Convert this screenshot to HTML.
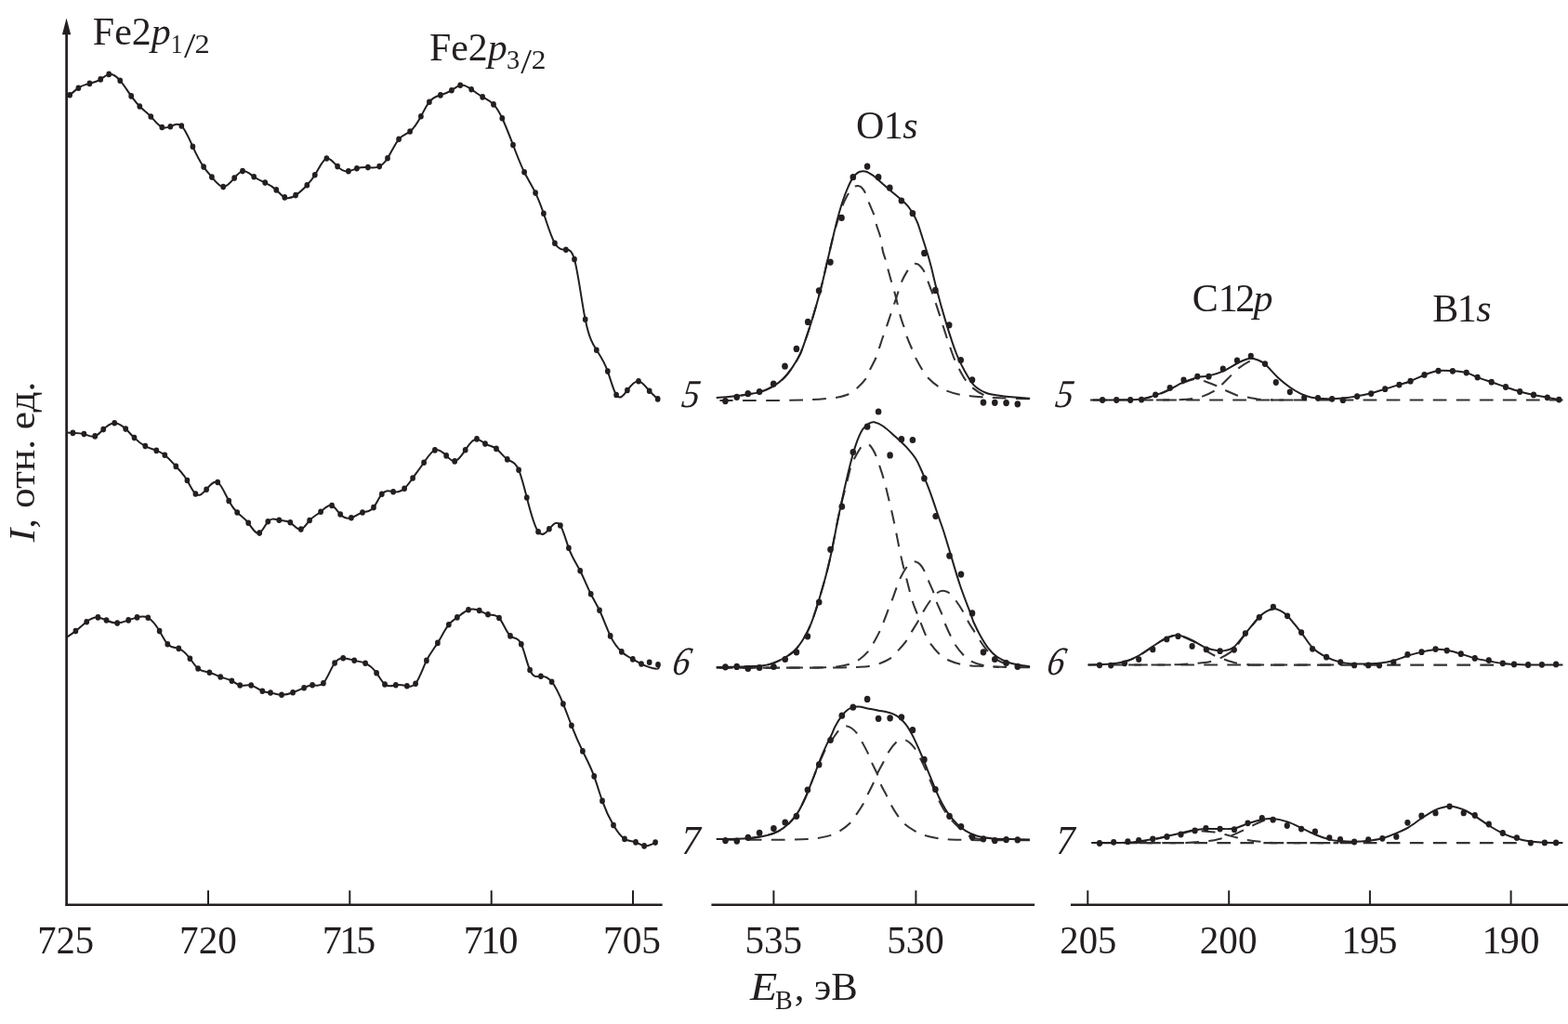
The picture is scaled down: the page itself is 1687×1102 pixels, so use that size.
<!DOCTYPE html>
<html lang="ru">
<head>
<meta charset="utf-8">
<title>XPS spectra: Fe2p, O1s, Cl2p, B1s</title>
<style>
html,body{margin:0;padding:0;background:#fff}
body{width:1687px;height:1102px;overflow:hidden}
svg{display:block}
.ax{stroke:#231f20;fill:none;stroke-width:2.4}
.tk{stroke:#231f20;fill:none;stroke-width:2}
.ln{stroke:#231f20;fill:none;stroke-width:2.0;stroke-linejoin:round;stroke-linecap:butt}
.ds{stroke:#343235;fill:none;stroke-width:2.05;stroke-dasharray:14.7 10.35}
.pt{fill:#231f20}
text{font-family:'Liberation Serif', serif;font-size:42px;fill:#231f20;white-space:pre}
</style>
</head>
<body>
<svg width="1687" height="1102" viewBox="0 0 1687 1102">
<rect width="1687" height="1102" fill="#fff"/>
<g class="ax"><path stroke-width="2.7" d="M71.6 36V975"/><path d="M70.6 973.8H712.6"/><path d="M765.4 973.8H1113.1"/><path d="M1152 973.8H1687"/></g>
<path d="M71.55 19.5L76.2 37.2H66.9Z" fill="#231f20"/>
<g class="tk"><path d="M224 958.3V973"/><path d="M376.3 958.3V973"/><path d="M528.7 958.3V973"/><path d="M681 958.3V973"/><path d="M832.4 958.3V973"/><path d="M985.4 958.3V973"/><path d="M1170.3 958.3V973"/><path d="M1322.2 958.3V973"/><path d="M1473.9 958.3V973"/><path d="M1625.6 958.3V973"/></g>
<g class="ds"><path stroke-dashoffset="22.2" d="M1173.1 430.4H1391"/><path stroke-dashoffset="0.3" d="M1366.7 430.4H1681.5"/><path stroke-dashoffset="0.5" d="M1170.5 715.5H1440"/><path stroke-dashoffset="0.4" d="M1342.3 715.6H1607"/><path stroke-dashoffset="15.2" d="M1174.2 907.1H1440"/><path stroke-dashoffset="0.2" d="M1366.7 907.1H1632"/><path stroke-dashoffset="2.6" d="M797.6 425.4C800.8 424.8 811.3 423.6 816.9 422.1C822.5 420.6 826.8 418.7 831.1 416.2C835.5 413.7 839.4 410.8 843 407.3C846.6 403.8 849.5 399.8 852.5 395.4C855.5 391 858.5 386.1 860.8 381.2C863.1 376.3 864.5 371.7 866.5 366C868.5 360.3 870.6 353.9 872.7 347.2C874.8 340.5 876.9 333.4 879 326C881.1 318.6 883.6 308.9 885.2 302.5C886.8 296.1 886.8 295.6 888.6 287.8C890.4 280 893.9 264.3 896.1 255.7C898.3 247.1 900.1 241.5 901.7 236C903.4 230.5 904.6 226.3 906 222.5C907.4 218.7 908.8 215.8 910.2 213C911.6 210.2 913.1 207.9 914.5 206C915.9 204.1 917.6 202.5 918.5 201.6C919.4 200.7 919.4 200.8 920.1 200.5"/><path d="M920.1 200.5C920.8 200.2 921.6 199.8 922.8 200C923.9 200.2 925.6 200.4 927 201.8C928.4 203.2 930 205.7 931.4 208.5C932.8 211.3 933.6 214.8 935.1 218.7C936.6 222.5 939.1 227.6 940.5 231.6C941.9 235.6 942.1 238.8 943.2 242.8C944.4 246.8 946.3 251.2 947.4 255.7C948.5 260.2 948.9 265.9 949.8 270C950.7 274.1 952 276.7 953 280.2C954 283.7 954.6 286.9 955.7 290.9C956.8 294.9 958 299.3 959.4 304.3C960.8 309.3 962.7 315 964.2 320.9C965.7 326.8 967.1 334.4 968.5 339.6C969.9 344.9 971.5 348.5 972.8 352.4C974 356.3 974.6 359.2 976 363.1C977.4 367 979.8 372.2 981.4 376C983 379.8 983.6 382.2 985.5 385.9C987.4 389.6 990.3 394.8 992.6 398.4C994.9 402 996.2 404.3 999.1 407.3C1002 410.3 1006.4 413.9 1009.8 416.2C1013.2 418.5 1015.3 419.4 1019.3 420.9C1023.2 422.4 1029.3 424.1 1033.5 425C1037.7 425.9 1040.2 425.8 1044.2 426.2C1048.2 426.6 1051.5 427 1057.8 427.4C1064.1 427.8 1073.6 428.3 1082 428.6C1090.4 428.9 1103.7 429.2 1108 429.3"/><path stroke-dashoffset="0.4" d="M774.4 431C778.7 431 789.4 431 800 431C810.6 431 827.5 431.1 838 431C848.5 430.9 857 430.6 863.1 430.5C869.2 430.4 870.1 430.4 874.4 430.1C878.6 429.9 884.5 429.4 888.6 429C892.8 428.6 895.3 428.8 899.3 428C903.2 427.2 908.5 426.2 912.3 424.5C916 422.8 918.6 420.7 921.8 417.9C925 415.1 928.9 411.2 931.3 407.9C933.7 404.5 934.1 401.7 936 397.8C937.9 393.9 940.9 388.6 942.6 384.7C944.3 380.8 944.7 378.3 946 374.4C947.3 370.5 948.9 365.4 950.3 361.5C951.6 357.6 952.8 354.7 954.1 350.8C955.5 346.9 956.7 343 958.4 338C960.1 333 962.2 326.7 964.2 320.9C966.2 315.1 968 308.2 970.1 303.2C972.2 298.2 974.9 293.8 976.6 290.9C978.3 287.9 979.2 286.7 980.5 285.5C981.8 284.3 982.9 283.8 984.1 283.7"/><path d="M984.1 283.7C985.4 283.6 986.8 283.9 988 284.6C989.2 285.3 990.4 286.6 991.5 288C992.6 289.4 993.6 290.5 994.8 293C996 295.5 997.1 299.4 998.5 303.2C999.9 307 1001.9 312 1003.3 316C1004.7 320 1005.8 323.3 1007.1 327.3C1008.4 331.3 1010 336.2 1011.3 340.1C1012.5 344 1013.4 346.9 1014.6 350.8C1015.9 354.7 1017.5 359.7 1018.8 363.7C1020.1 367.7 1021.2 371.1 1022.6 374.9C1024 378.7 1025.3 382.9 1026.9 386.7C1028.5 390.5 1030.3 394.1 1032.3 397.8C1034.3 401.5 1036.3 405.6 1038.8 409C1041.3 412.4 1043.9 415.3 1047.1 417.9C1050.3 420.5 1054 423.1 1057.8 424.8C1061.6 426.5 1068 427.5 1070 428"/><path stroke-dashoffset="24.1" d="M800 717.4C803.2 717.3 814.1 717.2 819.3 716.6C824.5 716 827.1 715.2 831.1 713.9C835.1 712.5 839 710.8 843 708.5C847 706.2 851.2 703.7 854.8 700.2C858.3 696.8 861.3 692.6 864.3 687.8C867.3 683 869.5 679.1 872.6 671.2C875.7 663.3 879.4 651.6 882.7 640.2C886.1 628.8 889.4 617.3 892.7 602.7C896.1 588.1 899.6 566.9 902.8 552.7C905.9 538.5 909.5 525.8 911.6 517.3C913.7 508.8 914.1 506.1 915.5 502C916.9 497.9 917.9 496 919.7 492.5C921.6 489 924.7 483.5 926.6 481C928.5 478.5 929.6 478 931 477.6C932.4 477.2 933.9 477.6 935.2 478.6"/><path d="M935.2 478.6C936.5 479.6 937.7 481.3 939 483.5C940.3 485.7 941 486.5 942.9 491.7C944.8 496.9 948.3 506.9 950.6 514.9C952.9 522.9 954.8 531.5 956.8 539.6C958.8 547.7 960.2 553.8 962.3 563.7C964.4 573.6 967.2 589 969.4 598.9C971.6 608.8 973.3 615.2 975.4 623.3C977.5 631.4 979.9 641 981.8 647.3C983.7 653.5 984.5 654.7 986.9 660.8C989.3 666.9 993.6 678.4 996.1 683.9C998.6 689.4 999.4 690.4 1001.8 693.7C1004.2 697 1007.7 701.1 1010.7 703.9C1013.7 706.6 1016.1 708.4 1019.9 710.2C1023.7 712 1029.3 713.7 1033.4 714.7C1037.5 715.7 1040.3 716 1044.4 716.4C1048.5 716.8 1053.7 716.7 1057.8 716.9C1061.9 717.1 1064.9 717.2 1069.1 717.4C1073.2 717.6 1076.2 717.9 1082.7 718C1089.2 718.1 1103.8 718.2 1108 718.2"/><path stroke-dashoffset="21.7" d="M770.7 718.6C775.6 718.6 785.1 718.6 800 718.6C814.9 718.6 845.8 718.7 860 718.6C874.2 718.5 878.2 718.5 885 718.3C891.8 718.1 895.5 718 900.5 717.4C905.5 716.8 910.7 715.8 914.7 714.5C918.8 713.2 921.4 711.9 924.8 709.5C928.2 707.1 932.3 703.2 934.9 700.1C937.5 697 938.5 694.4 940.5 690.8C942.5 687.2 945.2 682.1 947 678.3C948.8 674.5 949.7 671.8 951.2 667.9C952.7 664 954.5 659.1 956 655.2C957.5 651.3 958.7 648.6 960.2 644.7C961.7 640.8 963.4 635.5 964.9 631.6C966.4 627.7 967.3 624.9 969.1 621.2C970.9 617.5 974 612.3 975.9 609.6C977.8 606.9 979 606.1 980.5 605.2C982 604.4 983.5 604.1 985.1 604.5"/><path d="M985.1 604.5C986.7 604.9 988.4 605.8 990 607.5C991.6 609.2 993.1 611.7 994.6 614.6C996.1 617.5 997.2 620.9 998.8 624.7C1000.4 628.5 1002.9 633.7 1004.4 637.6C1005.9 641.5 1006.2 644.1 1007.7 648C1009.2 651.9 1011.9 657.1 1013.4 661C1014.9 664.9 1015.3 667.6 1016.9 671.5C1018.5 675.4 1020.9 680.5 1022.7 684.2C1024.5 687.9 1025.3 690.4 1027.6 693.8C1029.9 697.2 1033.6 701.8 1036.4 704.8C1039.2 707.8 1041.1 709.7 1044.7 711.6C1048.3 713.5 1052.8 715 1057.8 716.1C1062.8 717.2 1072.1 717.7 1075 718"/><path stroke-dashoffset="25" d="M770.7 718.6C775.6 718.6 781.8 718.6 800 718.6C818.2 718.6 862.5 718.6 880 718.6C897.5 718.6 898.1 718.5 905 718.4C911.9 718.3 916.3 718.1 921.3 717.9C926.3 717.6 931 717.5 935 716.9C939 716.3 941.7 715.9 945.6 714.4C949.5 712.9 955.1 710.4 958.5 708.1C961.9 705.8 963.4 703.5 966.1 700.4C968.8 697.3 972.5 693.2 974.9 689.8C977.3 686.4 978.6 683.6 980.7 680.1C982.8 676.6 985.4 672.6 987.5 669C989.6 665.4 991 662.1 993.2 658.4C995.4 654.6 998.3 649.9 1000.8 646.5C1003.3 643.1 1005.9 640 1008.1 638.2"/><path d="M1008.1 638.2C1010.4 636.4 1012.1 635.8 1014.3 635.8C1016.5 635.8 1019 636.4 1021.4 638.2C1023.8 640 1026 643.1 1028.5 646.5C1031 649.9 1034.1 654.7 1036.3 658.4C1038.5 662.1 1039.7 665.3 1041.7 668.9C1043.7 672.5 1046.4 676.6 1048.5 680C1050.6 683.4 1052.3 686.3 1054.4 689.5C1056.5 692.7 1058.8 696.1 1061.3 699.2C1063.8 702.3 1065.6 705.4 1069.1 707.9C1072.6 710.4 1077.8 712.9 1082.1 714.5C1086.4 716.1 1092.8 717 1095 717.5"/><path stroke-dashoffset="6.1" d="M807.6 901.9C810.6 901.4 820.5 900.1 825.4 898.9C830.3 897.7 833.3 896.9 837.3 894.7C841.3 892.5 845.6 889.3 849.2 885.8C852.8 882.3 855.7 878.6 858.7 873.9C861.7 869.1 864.4 863 867 857.3C869.6 851.6 871.7 845.5 874.1 839.5C876.5 833.5 879.2 826.6 881.6 821C884 815.4 886 810.2 888.3 806C890.6 801.8 893.4 798.6 895.6 795.5C897.8 792.4 899.7 789.4 901.5 787.1C903.3 784.8 905 782.6 906.5 781.6C908 780.6 908.8 780.9 910.4 781.2"/><path d="M910.4 781.2C912 781.5 914.1 782.2 916 783.5C917.9 784.8 919.9 786.5 921.7 788.9C923.6 791.3 925.1 794.1 927.1 797.8C929.1 801.5 932.2 807.1 934 810.9C935.8 814.7 936.2 816.7 937.8 820.4C939.4 824.1 942.1 829 943.8 832.9C945.4 836.8 945.8 839.7 947.5 843.6C949.1 847.5 952 852.4 953.9 856.1C955.7 859.8 956.6 862.2 958.6 865.9C960.6 869.6 963.7 874.7 966.1 878.1C968.5 881.5 969.8 883.6 972.9 886.4C976 889.2 981.2 892.6 984.8 894.7C988.4 896.8 990.4 897.7 994.3 898.9C998.2 900.1 1003.9 901.2 1008 901.9C1012.1 902.6 1014.7 902.8 1018.9 903.1C1023.1 903.4 1026.5 903.5 1033 903.7C1039.5 903.9 1045.4 904.2 1057.9 904.3C1070.4 904.4 1099.7 904.2 1108 904.2"/><path stroke-dashoffset="16" d="M770.7 903.7C776.5 903.7 795.3 903.7 805.2 903.7C815.1 903.7 821.9 903.7 830.2 903.7C838.5 903.7 848.7 903.7 855.1 903.6C861.5 903.5 864.6 903.4 868.8 903.1C873 902.8 875.9 902.6 880.1 901.9C884.3 901.2 889.8 900.2 893.8 898.9C897.8 897.6 900.4 896.3 903.9 894.1C907.4 891.9 911.7 888.7 914.6 885.8C917.5 882.9 918.7 880.4 921.1 876.9C923.5 873.4 926.7 868.7 928.8 865C930.9 861.3 931.7 858.8 933.6 854.9C935.5 851 938.4 845.5 940.1 841.8C941.8 838.1 942 836.6 943.8 832.9C945.5 829.2 948.7 823.7 950.7 819.8C952.7 815.9 953.5 813.2 955.7 809.7C957.9 806.2 961.6 801.3 964 799C966.4 796.7 968.2 796.4 970 796C971.8 795.6 972.9 795.9 974.5 796.6"/><path d="M974.5 796.6C976.1 797.3 977.8 798.4 979.5 800C981.2 801.6 983 803.5 984.8 806.2C986.6 808.9 988.3 812.6 990.2 816.3C992.1 820 994.2 824.3 996.1 828.5C998 832.7 999.7 837.2 1001.5 841.5C1003.3 845.8 1005.2 850.4 1007 854.5C1008.8 858.6 1010.5 862.3 1012.5 866C1014.5 869.7 1016.6 873.2 1019 876.5C1021.4 879.8 1024.3 883.2 1027 886C1029.7 888.8 1032.2 891.1 1035 893.5C1037.8 895.9 1039.9 898.4 1043.7 900.1C1047.5 901.8 1052.7 903.1 1057.9 903.7C1063.1 904.4 1072.2 904 1075 904"/><path stroke-dashoffset="3.4" d="M1227.8 429.8C1230.4 429.1 1238 427.5 1243.2 425.8C1248.4 424.1 1253.7 421.7 1258.7 419.4C1263.8 417.1 1269.5 413.6 1273.5 411.8C1277.5 410 1280.3 409 1283 408.4C1285.7 407.8 1287.4 408 1289.5 408.3C1291.6 408.6 1292.2 408.8 1295.4 410"/><path d="M1295.4 410C1298.7 411.2 1305.2 413.7 1309 415.3C1312.8 416.9 1314.1 418.1 1317.9 419.8C1321.7 421.5 1327.5 424.4 1331.6 425.7C1335.6 427 1338.2 426.8 1342.2 427.5C1346.2 428.2 1351.3 429.3 1355.9 429.8C1360.5 430.3 1367.7 430.3 1370 430.4"/><path stroke-dashoffset="0.6" d="M1244 430.4C1248.2 430.4 1262.5 430.4 1269 430.2C1275.5 429.9 1278.9 429.5 1283 428.9C1287.1 428.3 1289.6 428 1293.6 426.6C1297.5 425.2 1303.1 422.8 1306.7 420.6C1310.3 418.4 1312 416.4 1315 413.5C1318 410.6 1322 406.4 1325 403.5C1328 400.6 1329.5 398.6 1332.8 396.1C1336.1 393.6 1341.7 390.1 1344.6 388.6C1347.5 387.1 1349.1 387.4 1350 387.2"/><path stroke-dashoffset="14.3" d="M1195.1 714.5C1197.6 714.1 1205.1 713.6 1210 712.2C1214.9 710.8 1219.3 708.9 1224.3 706.3C1229.2 703.6 1234.6 699.5 1239.7 696.3C1244.8 693.1 1250.5 688.9 1255.1 686.9C1259.7 684.9 1263 683.5 1267.5 684C1272 684.5 1278.3 687.7 1282.4 689.6C1286.5 691.5 1289 693.5 1292 695.5C1295 697.5 1297.8 700.2 1300.2 701.9C1302.7 703.6 1303.9 704.2 1306.7 705.5C1309.5 706.8 1313.2 708.2 1317.3 709.6C1321.3 711 1326.4 712.8 1331 713.8C1335.6 714.8 1342.7 715.1 1345 715.4"/><path stroke-dashoffset="0.7" d="M1214.1 715.5C1218.3 715.5 1230.8 715.5 1239.1 715.5C1247.4 715.5 1255.7 715.6 1264 715.3C1272.3 715 1282.5 714.3 1288.9 713.8C1295.3 713.2 1298.5 712.9 1302.5 712C1306.5 711.1 1309 710.1 1312.6 708.4C1316.2 706.7 1321 704 1323.9 701.9C1326.8 699.8 1327.3 699.3 1330 696C1332.7 692.7 1335.8 687.5 1339.9 682.2C1344 676.9 1350.8 668.4 1354.8 664.3C1358.8 660.2 1361.1 659.1 1363.7 657.6C1366.3 656.1 1369.1 655.7 1370.2 655.3"/><path stroke-dashoffset="3" d="M1222 907C1225.2 906.4 1235.3 904.7 1240.9 903.6C1246.5 902.5 1250.8 901.4 1255.7 900.3C1260.6 899.2 1265.6 898 1270.5 897C1275.4 896 1281.3 894.4 1285.3 894C1289.2 893.6 1290.6 894.2 1294.2 894.5C1297.8 894.8 1302.8 895 1306.7 895.6C1310.7 896.2 1313.9 897 1317.9 898C1322 899 1327 900.6 1331 901.6C1335 902.6 1338 903.2 1342.2 903.9C1346.4 904.6 1351.3 905.2 1355.9 905.7C1360.5 906.2 1367.7 906.8 1370 907"/><path stroke-dashoffset="0.8" d="M1226 907.1C1230.2 907.1 1242.7 907.1 1251 907.1C1259.3 907.1 1267.5 907.2 1275.8 906.9C1284.1 906.6 1294.3 905.9 1300.7 905.1C1307.1 904.3 1310.2 903.3 1314.4 902.2C1318.7 901.1 1322.4 900 1326.2 898.6C1330 897.2 1333.9 895.3 1337.5 893.6C1341.1 891.9 1343.9 890.2 1347.6 888.5C1351.2 886.8 1355.7 884.4 1359.4 883.2C1363.1 882 1367.9 881.6 1369.6 881.3"/></g>
<g class="ln"><path d="M72 104.5C73 103.8 74.1 103 75.1 102.2C78.2 99.8 81.3 96.8 84.4 94.7C88.4 92 92.4 90.9 96.4 89.9C100.3 88.9 104.3 87.9 108.2 85.4C111.2 83.5 114.2 80.6 117.2 79.9C121.2 79 125.2 82 129.2 86.7C133.2 91.4 137.2 97.8 141.2 103.4C144.2 107.6 147.3 111.4 150.3 114.5C154.3 118.5 158.3 121.3 162.3 125.5C166.3 129.7 170.3 135.2 174.3 137C177.3 138.3 180.3 137.5 183.3 136.2C187.3 134.5 191.3 131.9 195.3 135.5C199.3 139.1 203.4 149 207.4 157.8C211.3 166.3 215.2 173.9 219.1 179.6C222 183.9 225 187.1 227.9 190.6C232 195.5 236.1 201 240.2 201.1C244.2 201.2 248.2 196.3 252.2 191.6C255.1 188.1 258.1 184.8 261 184.1C265.1 183.2 269.1 187.4 273.2 190.3C277.2 193.2 281.2 194.7 285.2 196.6C289.2 198.5 293.3 200.6 297.3 204.4C300.3 207.2 303.3 210.9 306.3 212.4C310.2 214.4 314.2 212.7 318.1 210.1C322.2 207.4 326.2 203.7 330.3 199.3C333.1 196.3 336 192.9 338.8 188.3C343 181.5 347.2 171.8 351.4 170.5C355.3 169.3 359.2 175.2 363.1 179.1C367 183 371 184.8 374.9 184.3C377.9 183.9 380.9 182.3 383.9 181.3C387.9 180 391.9 179.8 395.9 180.1C400 180.4 404.1 181.1 408.2 179.1C411.1 177.6 414.1 174.7 417 170.2C421 164 425.1 154.6 429.1 149.8C433.1 145 437.1 144.7 441.1 141.5C445 138.3 449 132.4 452.9 125.2C455.9 119.7 458.9 113.5 461.9 109.7C465.9 104.6 469.9 103.6 473.9 102.4C477.9 101.2 481.9 99.8 485.9 97.2C489 95.2 492.1 92.4 495.2 91.7C499.2 90.8 503.2 93.4 507.2 96.2C511.2 99 515.2 102.1 519.2 104.4C523.1 106.7 527.1 108.2 531 112.4C534.1 115.7 537.2 120.7 540.3 127.2C544.2 135.3 548.1 145.7 552 156C556 166.6 560.1 177.1 564.1 185.3C568.1 193.4 572.1 199.2 576.1 207.6C579 213.7 582 221.3 584.9 229.8C588.9 241.4 592.9 254.9 596.9 261.8C600.9 268.7 604.9 268.9 608.9 268.8C611.9 268.7 615 268.5 618 279.1C621.9 292.8 625.8 324.5 629.7 343.8C633.7 363.8 637.8 370.6 641.8 376.8C645.8 382.9 649.8 388.4 653.8 399.6C656.9 408.2 660 420.3 663.1 425C667 431 671 425.2 674.9 420C678.9 414.6 683 409.8 687 410.3C690.9 410.8 694.8 416.3 698.7 420.7C701.7 424.1 704.7 426.7 707.7 429.4"/><path d="M72 465.6C74.1 465.7 76.3 465.8 78.4 465.9C82.4 466 86.4 465.9 90.4 467.1C94.3 468.3 98.3 470.8 102.2 469.4C105.2 468.3 108.2 465 111.2 462.1C115.2 458.3 119.2 455.4 123.2 455.3C127.2 455.2 131.2 457.9 135.2 461.6C138.3 464.5 141.4 468.1 144.5 471.1C148.4 475 152.4 478 156.3 480.1C160.3 482.2 164.3 483.4 168.3 484.9C171.3 486 174.3 487.4 177.3 489.7C181.3 492.8 185.3 497.6 189.3 501.9C193.3 506.3 197.4 510.1 201.4 517C204.4 522.1 207.4 528.9 210.4 531.5C214.3 534.9 218.2 531.2 222.1 526.7C226.1 522.1 230.2 516.6 234.2 519C238.2 521.4 242.2 531.6 246.2 539C249.2 544.5 252.2 548.5 255.2 551.5C259.2 555.5 263.2 557.7 267.2 562.8C271.2 567.9 275.2 575.7 279.2 573.6C282.2 572 285.3 564.7 288.3 561.3C292.3 556.8 296.3 559.1 300.3 559.8C304.3 560.5 308.3 559.6 312.3 562.3C316.1 564.8 320 570.6 323.8 569.6C326.9 568.8 330 563.5 333.1 560C337.1 555.5 341.1 554.1 345.1 550.8C349.1 547.5 353.1 542.4 357.1 544C360.1 545.2 363.2 550.3 366.2 553.5C370.1 557.6 374 558.5 377.9 557.3C381.9 556.1 386 552.7 390 551.5C394 550.3 398 551.3 402 546.1C404.9 542.3 407.9 535.3 410.8 531.7C414.9 526.7 419 528.6 423.1 529.2C427.1 529.8 431.1 529.2 435.1 525.7C438.1 523 441.1 518.7 444.1 514.5C448.1 508.9 452.1 503.5 456.1 497.7C460 492 464 485.9 467.9 484.4C472 482.9 476.1 486.3 480.2 490.4C483.2 493.4 486.2 496.7 489.2 496.4C493 496.1 496.9 490 500.7 484.2C504.8 478 508.9 472.3 513 472.4C516 472.5 519 475.8 522 477.6C526 480 530 479.9 534 482.9C537.9 485.8 541.9 491.8 545.8 494.4C549.9 497.1 554 496.3 558.1 505.7C561 512.4 563.9 524.1 566.8 535.5C570.9 551.6 575 566.8 579.1 572.3C583 577.6 587 573.8 590.9 569.3C594.9 564.7 598.9 559.2 602.9 565.5C605.9 570.2 608.9 581.6 611.9 589.8C616 601 620.1 606.2 624.2 614.2C628 621.7 631.9 631.6 635.7 639.3C638.8 645.5 641.9 650.2 645 656.8C648.9 665.1 652.8 676.3 656.7 684.4C660.7 692.8 664.8 697.8 668.8 701.4C672.8 705 676.8 707.1 680.8 709.4C683.9 711.2 686.9 713 690 714.5C692 715.5 694 716.3 696 717.1C698 717.9 700 718.5 702 719C703.4 719.3 704.9 719.6 706.3 719.8"/><path d="M706.3 719.8C708.3 720 709.6 718.6 708.6 716.2"/><path d="M72 685.5C75.1 683.5 78.3 681.6 81.4 679.1C85.3 676 89.3 672.1 93.2 669.2C97.3 666.2 101.3 664.1 105.4 664.4C108.4 664.6 111.5 666.2 114.5 667.5C118.4 669.2 122.3 670.7 126.2 670.6C130.2 670.5 134.2 668.9 138.2 667.4C141.3 666.3 144.4 665.2 147.5 664.4C151.4 663.4 155.4 662.7 159.3 664.8C163.4 667 167.5 672 171.6 679.1C174.5 684.1 177.4 690.1 180.3 693.2C184.3 697.5 188.3 696.4 192.3 697.9C196.3 699.4 200.4 703.4 204.4 708.7C207.3 712.5 210.2 717 213.1 719.5C217.2 723 221.3 722.6 225.4 723.7C229.3 724.7 233.3 727.1 237.2 728.5C241.3 730 245.3 730.5 249.4 732.7C252.3 734.3 255.3 736.7 258.2 737.5C262.2 738.6 266.2 736.6 270.2 737.5C274.2 738.4 278.3 742.2 282.3 743.8C285.2 745 288.1 745 291 745.5C295 746.2 299 747.6 303 747.8C307 748 311.1 746.8 315.1 745.3C319.1 743.8 323.1 742.1 327.1 740.2C330.1 738.8 333.1 737.3 336.1 737.2C340 737.1 344 739.5 347.9 735.2C352 730.8 356 719.2 360.1 713.5C363.1 709.2 366.2 708.2 369.2 708.2C373.2 708.2 377.2 709.8 381.2 710.8C385.2 711.8 389.1 712.1 393.1 713.8C397.1 715.5 401.1 718.6 405.1 724.2C408.1 728.4 411 734 414 736.5C417.9 739.9 421.9 737.8 425.8 737.2C429.8 736.6 433.9 737.4 437.9 738.2C441 738.8 444 739.4 447.1 735.7C451 730.9 455 719 458.9 710.9C462.9 702.6 466.9 698.3 470.9 691.9C474.9 685.5 478.8 677.2 482.8 672.2C485.8 668.4 488.9 666.6 491.9 664.4C495.9 661.5 500 657.9 504 656.3C507.9 654.8 511.8 655.2 515.7 657C518.8 658.4 521.9 660.6 525 661.3C529 662.2 533 660.4 537 665C541 669.6 545 680.7 549 684.4C552.9 688.1 556.9 684.7 560.8 693.2C563.9 699.9 567 713.9 570.1 721C574 730 578 728 581.9 727.7C585.8 727.4 589.7 728.9 593.6 733.7C597.7 738.7 601.8 747.4 605.9 757.5C608.9 764.9 611.9 773.1 614.9 780.8C618.9 791 622.9 800.2 626.9 808.4C631 816.8 635.1 824.1 639.2 835.4C642.1 843.5 645.1 853.6 648 861.9C652 873.3 656 881.3 660 888.1C664 894.9 668 900.4 672 902.9C676 905.4 680 904.9 684 906.4C687 907.5 690.1 909.8 693.1 910.4C697.1 911.1 701.1 908.9 705.1 906.6"/><path d="M770.7 428C775.2 427.6 789.9 426.4 797.6 425.4C805.3 424.4 811.3 423.6 816.9 422.1C822.5 420.6 826.8 418.7 831.1 416.2C835.5 413.7 839.4 410.8 843 407.3C846.6 403.8 849.5 399.8 852.5 395.4C855.5 391 858.5 386.1 860.8 381.2C863.1 376.3 864.5 371.7 866.5 366C868.5 360.3 870.6 353.9 872.7 347.2C874.8 340.5 876.9 333.4 879 326C881.1 318.6 883.6 308.9 885.2 302.5C886.8 296.1 886.8 295.6 888.6 287.8C890.4 280 894 264.6 896.1 255.7C898.2 246.8 899.6 240.8 901.4 234.2C903.2 227.6 905 221.3 906.8 216C908.6 210.7 910.3 206.2 912.1 202.1C913.9 198 915.7 194.1 917.5 191.4C919.3 188.7 921 187 922.8 185.8C924.6 184.6 926.4 184.3 928.2 184.2C930 184.1 931.5 184.5 933.5 185.3C935.5 186.2 937.5 187.4 940 189.3C942.5 191.2 945.6 194.3 948.5 196.8C951.4 199.3 953.5 201.3 957.1 204.3C960.7 207.3 966.7 212.2 969.9 215C973.1 217.8 974.4 219.1 976.4 221.4C978.4 223.7 979.9 225.9 981.7 228.9C983.5 231.9 985.3 235.1 987.1 239.6C988.9 244.1 990.6 250.2 992.4 255.7C994.2 261.2 996.2 267.4 997.8 272.8C999.4 278.2 1000.3 281.1 1002 287.8C1003.7 294.5 1005.5 302.9 1008.1 312.8C1010.7 322.7 1014.4 335.9 1017.8 347.1C1021.2 358.3 1025.5 371.6 1028.7 380C1031.9 388.4 1033.9 392.1 1037.1 397.8C1040.3 403.5 1043.8 410.2 1047.7 414.4C1051.7 418.5 1055.7 420.7 1060.8 422.7C1065.9 424.7 1070.7 425.2 1078.6 426.2C1086.5 427.2 1103.3 428.4 1108.2 428.8"/><path d="M770.7 718C775.6 717.9 791.9 717.6 800 717.4C808.1 717.2 814.1 717.2 819.3 716.6C824.5 716 827.1 715.2 831.1 713.9C835.1 712.5 839 710.8 843 708.5C847 706.2 851.2 703.7 854.8 700.2C858.3 696.8 861.3 692.6 864.3 687.8C867.3 683 869.5 679.1 872.6 671.2C875.7 663.3 879.4 651.6 882.7 640.2C886.1 628.8 889.4 617.3 892.7 602.7C896.1 588.1 899.4 568.5 902.8 552.7C906.1 536.9 909.9 519.8 912.8 507.7C915.7 495.6 917.8 487.6 920.3 480.1C922.8 472.6 925.3 466.7 927.8 462.6C930.3 458.5 933.2 457 935.3 455.6C937.4 454.2 938 453.8 940.5 454.3C943 454.8 946.6 456.2 950.3 458.8C954 461.4 958.7 465.8 962.9 469.6C967.1 473.4 971.6 477.3 975.4 481.4C979.1 485.5 982.9 490.1 985.4 494C987.9 497.9 988.9 500.8 990.6 504.5C992.3 508.2 993.7 511.6 995.6 516.5C997.5 521.4 999.9 527.3 1002.2 533.8C1004.5 540.3 1007.4 549.1 1009.5 555.3C1011.6 561.5 1013 565 1014.9 570.8C1016.8 576.6 1017.8 580.3 1020.8 590C1023.8 599.7 1028.7 617.3 1032.7 629.2C1036.7 641.1 1042.1 654.5 1044.6 661.3C1047.1 668.1 1046 666.2 1047.7 670C1049.4 673.8 1052.2 679.7 1054.8 684.2C1057.4 688.8 1060.1 693.5 1063.1 697.3C1066.1 701.1 1069 704.2 1072.6 706.8C1076.2 709.4 1080.5 711.2 1084.5 712.7C1088.5 714.2 1092.3 714.8 1096.3 715.6C1100.2 716.4 1106.2 717.1 1108.2 717.4"/><path d="M770.7 903.1C776.9 902.9 798.5 902.6 807.6 901.9C816.7 901.2 820.5 900.1 825.4 898.9C830.3 897.7 833.3 896.9 837.3 894.7C841.3 892.5 845.6 889.3 849.2 885.8C852.8 882.3 855.7 878.6 858.7 873.9C861.7 869.1 864.4 863 867 857.3C869.6 851.6 871.7 845.6 874.1 839.5C876.5 833.4 879.3 825.5 881.3 820.4C883.3 815.3 884.5 812.4 886 809C887.5 805.6 888.6 803.2 890 800.2C891.4 797.2 892.9 794.4 894.4 791.3C895.9 788.2 896.8 785 898.7 781.5C900.6 778 903.4 773.3 905.6 770.4C907.8 767.5 909.8 765.5 911.8 764C913.8 762.5 915.5 761.7 917.6 761.1C919.7 760.5 921.4 760.4 924.1 760.6C926.8 760.8 930.1 761.7 933.6 762.4C937.1 763.1 941.8 764.1 945.2 764.7C948.6 765.3 951.5 765.7 953.9 766.2C956.3 766.7 957.9 767.2 959.7 767.9C961.5 768.6 963.1 769.3 964.8 770.4C966.5 771.5 968.3 772.9 969.9 774.4C971.5 775.9 972.8 777.2 974.2 779.1C975.7 781 977.2 783.3 978.6 785.7C980 788.1 981.5 790.7 982.9 793.6C984.3 796.5 985.8 799.8 987.3 803.1C988.8 806.4 990.3 810.1 991.6 813.2C992.9 816.3 993.8 818.1 995.3 821.9C996.8 825.7 998.4 829.8 1000.9 835.9C1003.4 842 1007.2 852 1010.4 858.5C1013.6 865 1016.7 870.5 1019.9 875.1C1023.1 879.8 1026.2 883.2 1029.4 886.4C1032.6 889.6 1035.3 891.9 1038.9 894.1C1042.5 896.3 1045.8 898.1 1050.8 899.5C1055.8 900.9 1062.6 901.9 1068.6 902.5C1074.5 903.1 1080 903 1086.5 903.1C1093 903.2 1104.3 903.4 1107.9 903.4"/><path d="M1173.1 430.4C1180.1 430.4 1205.9 430.4 1215 430.3C1224.1 430.2 1223.1 430.3 1227.8 429.5C1232.5 428.7 1238 427.2 1243.2 425.4C1248.4 423.6 1253.7 421.3 1258.7 418.9C1263.8 416.5 1268.6 413.3 1273.5 411.2C1278.4 409.1 1283.8 407.2 1288.3 406.1C1292.8 405 1296 405.5 1300.7 404.4C1305.4 403.3 1311.2 401.5 1316.2 399.3C1321.2 397.1 1327 393.1 1331 391C1335 388.9 1337.5 387.9 1340 387C1342.5 386.1 1343.8 385.7 1345.8 385.7C1347.8 385.7 1349.5 386 1352 387C1354.5 388 1356.7 388.3 1360.6 391.6C1364.5 394.9 1371.1 402.9 1375.6 407C1380.1 411.1 1383.5 413.7 1387.4 416.5C1391.4 419.3 1395.3 421.7 1399.3 423.6C1403.2 425.5 1406.2 426.9 1411.1 427.8C1416 428.8 1423 429.2 1428.9 429.3C1434.8 429.4 1441.8 428.8 1446.7 428.3C1451.7 427.9 1453.8 427.5 1458.6 426.6C1463.3 425.8 1469.9 424.5 1475.2 423.2C1480.5 421.9 1485.3 420.1 1490.3 418.6C1495.3 417.1 1500.9 415.5 1505.4 414.1C1510 412.7 1513.1 412 1517.6 410.2C1522.1 408.4 1527.6 405.4 1532.6 403.5C1537.6 401.6 1542.5 399.8 1547.5 399.1C1552.5 398.4 1557.9 399 1562.9 399.3C1567.9 399.6 1573.2 400 1577.7 401.1C1582.2 402.2 1585.1 404.4 1589.6 406.1C1594.1 407.8 1599.6 409.5 1604.7 411.2C1609.8 412.9 1614.9 414.8 1620 416.5C1625.1 418.2 1630.2 420.1 1635.2 421.5C1640.2 422.9 1645.1 423.9 1650 425C1654.9 426.1 1660.2 426.9 1664.8 427.8C1669.3 428.7 1675.2 429.7 1677.3 430.1"/><path d="M1170.7 715.5C1174.8 715.4 1188.5 715.2 1195 714.6C1201.5 714 1205.1 713.4 1210 712C1214.9 710.6 1219.3 708.8 1224.3 706.1C1229.2 703.4 1234.6 699.3 1239.7 696C1244.8 692.7 1250.5 688.6 1255.1 686.5C1259.7 684.4 1263 683.1 1267.5 683.5C1272 683.9 1277.4 686.6 1282.4 688.9C1287.5 691.2 1292.8 695.3 1297.8 697.2C1302.8 699.1 1308.8 700.1 1312.6 700.5C1316.3 700.9 1317.7 700.2 1320.3 699.5C1322.9 698.8 1324.7 699 1328 696C1331.3 693 1335.4 687.1 1339.9 681.8C1344.4 676.5 1350.8 668.1 1354.8 664C1358.8 659.9 1361.1 658.9 1363.7 657.4C1366.3 655.9 1368 655.2 1370.2 655.1C1372.4 655 1374.3 655.6 1376.8 656.9C1379.3 658.2 1381.2 658.8 1385.1 662.8C1388.9 666.8 1395.4 674.9 1399.9 680.6C1404.4 686.3 1407.8 692.8 1412.3 697.2C1416.8 701.6 1422.1 704.6 1427.1 707.2C1432 709.8 1437 711.4 1442 712.6C1447 713.8 1452.4 714.1 1457.4 714.4C1462.4 714.7 1467.8 714.5 1472.2 714.4C1476.6 714.3 1479.5 714.4 1484 713.8C1488.5 713.2 1494.2 712.3 1499.2 711C1504.2 709.7 1509.2 707.4 1514.3 705.8C1519.4 704.2 1524.7 702.8 1529.7 701.6C1534.7 700.5 1540 699.2 1544.5 698.9C1549 698.6 1552.4 699 1556.9 699.8C1561.5 700.6 1566.8 702.3 1571.8 703.7C1576.8 705.1 1581.6 707.1 1586.6 708.4C1591.6 709.7 1596.8 710.5 1601.8 711.4C1606.8 712.3 1612.2 713.4 1616.8 714C1621.4 714.6 1624.8 714.6 1629.3 714.9C1633.8 715.1 1639.2 715.4 1644.1 715.5C1649 715.6 1652.7 715.5 1658.9 715.5C1665.1 715.5 1677.7 715.5 1681.4 715.5"/><path d="M1174.2 907.1C1180.6 907 1203.7 907 1212.4 906.7C1221.1 906.4 1221.8 905.7 1226.6 905.1C1231.3 904.5 1236.1 904 1240.9 903.1C1245.8 902.2 1250.8 900.9 1255.7 899.8C1260.6 898.7 1265.6 897.6 1270.5 896.5C1275.4 895.4 1280.8 894 1285.3 893.3C1289.8 892.6 1292.7 892.3 1297.2 892.1C1301.8 891.9 1307.5 892.2 1312.6 892.1C1317.7 892 1323 892.5 1328 891.5C1333 890.5 1337.8 887.8 1342.8 886.2C1347.8 884.6 1353.3 882.9 1357.8 882C1362.3 881.1 1365 880.7 1369.6 881.1C1374.1 881.5 1380 882.8 1385.1 884.4C1390.1 886 1395 888.6 1399.9 890.9C1404.8 893.2 1409.7 895.9 1414.7 898C1419.7 900.1 1425.5 902.2 1430.1 903.4C1434.6 904.6 1437.5 904.7 1442 905.1C1446.5 905.5 1452.4 905.8 1457.4 905.7C1462.4 905.7 1467.3 905.4 1472.2 904.8C1477.1 904.2 1482.1 903.5 1487 902.2C1491.9 900.9 1497 898.8 1501.8 896.8C1506.5 894.8 1510.8 893 1515.5 890.3C1520.2 887.6 1525 883.6 1529.7 880.5C1534.4 877.4 1540.2 873.8 1543.9 871.9C1547.7 870 1549.6 869.7 1552.2 869C1554.8 868.3 1557 867.8 1559.6 867.8C1562.2 867.8 1564.7 868.2 1567.6 869C1570.5 869.8 1573.5 870.7 1577.1 872.5C1580.7 874.3 1584.8 876.9 1589 879.6C1593.2 882.3 1597.4 885.6 1602 888.5C1606.6 891.4 1611.9 894.5 1616.8 896.8C1621.7 899.1 1626.6 900.8 1631.6 902.2C1636.6 903.7 1642 904.8 1647 905.5C1652 906.2 1656.2 906.5 1661.9 906.7C1667.6 906.9 1678.2 906.9 1681.4 906.9"/></g>
<g class="pt"><ellipse cx="75.1" cy="102.2" rx="2.85" ry="3.3"/><ellipse cx="84.4" cy="94.7" rx="2.85" ry="3.3"/><ellipse cx="96.4" cy="89.9" rx="2.85" ry="3.3"/><ellipse cx="108.2" cy="85.4" rx="2.85" ry="3.3"/><ellipse cx="117.2" cy="79.9" rx="2.85" ry="3.3"/><ellipse cx="129.2" cy="86.7" rx="2.85" ry="3.3"/><ellipse cx="141.2" cy="103.4" rx="2.85" ry="3.3"/><ellipse cx="150.3" cy="114.5" rx="2.85" ry="3.3"/><ellipse cx="162.3" cy="125.5" rx="2.85" ry="3.3"/><ellipse cx="174.3" cy="137" rx="2.85" ry="3.3"/><ellipse cx="183.3" cy="136.2" rx="2.85" ry="3.3"/><ellipse cx="195.3" cy="135.5" rx="2.85" ry="3.3"/><ellipse cx="207.4" cy="157.8" rx="2.85" ry="3.3"/><ellipse cx="219.1" cy="179.6" rx="2.85" ry="3.3"/><ellipse cx="227.9" cy="190.6" rx="2.85" ry="3.3"/><ellipse cx="240.2" cy="201.1" rx="2.85" ry="3.3"/><ellipse cx="252.2" cy="191.6" rx="2.85" ry="3.3"/><ellipse cx="261" cy="184.1" rx="2.85" ry="3.3"/><ellipse cx="273.2" cy="190.3" rx="2.85" ry="3.3"/><ellipse cx="285.2" cy="196.6" rx="2.85" ry="3.3"/><ellipse cx="297.3" cy="204.4" rx="2.85" ry="3.3"/><ellipse cx="306.3" cy="212.4" rx="2.85" ry="3.3"/><ellipse cx="318.1" cy="210.1" rx="2.85" ry="3.3"/><ellipse cx="330.3" cy="199.3" rx="2.85" ry="3.3"/><ellipse cx="338.8" cy="188.3" rx="2.85" ry="3.3"/><ellipse cx="351.4" cy="170.5" rx="2.85" ry="3.3"/><ellipse cx="363.1" cy="179.1" rx="2.85" ry="3.3"/><ellipse cx="374.9" cy="184.3" rx="2.85" ry="3.3"/><ellipse cx="383.9" cy="181.3" rx="2.85" ry="3.3"/><ellipse cx="395.9" cy="180.1" rx="2.85" ry="3.3"/><ellipse cx="408.2" cy="179.1" rx="2.85" ry="3.3"/><ellipse cx="417" cy="170.2" rx="2.85" ry="3.3"/><ellipse cx="429.1" cy="149.8" rx="2.85" ry="3.3"/><ellipse cx="441.1" cy="141.5" rx="2.85" ry="3.3"/><ellipse cx="452.9" cy="125.2" rx="2.85" ry="3.3"/><ellipse cx="461.9" cy="109.7" rx="2.85" ry="3.3"/><ellipse cx="473.9" cy="102.4" rx="2.85" ry="3.3"/><ellipse cx="485.9" cy="97.2" rx="2.85" ry="3.3"/><ellipse cx="495.2" cy="91.7" rx="2.85" ry="3.3"/><ellipse cx="507.2" cy="96.2" rx="2.85" ry="3.3"/><ellipse cx="519.2" cy="104.4" rx="2.85" ry="3.3"/><ellipse cx="531" cy="112.4" rx="2.85" ry="3.3"/><ellipse cx="540.3" cy="127.2" rx="2.85" ry="3.3"/><ellipse cx="552" cy="156" rx="2.85" ry="3.3"/><ellipse cx="564.1" cy="185.3" rx="2.85" ry="3.3"/><ellipse cx="576.1" cy="207.6" rx="2.85" ry="3.3"/><ellipse cx="584.9" cy="229.8" rx="2.85" ry="3.3"/><ellipse cx="596.9" cy="261.8" rx="2.85" ry="3.3"/><ellipse cx="608.9" cy="268.8" rx="2.85" ry="3.3"/><ellipse cx="618" cy="279.1" rx="2.85" ry="3.3"/><ellipse cx="629.7" cy="343.8" rx="2.85" ry="3.3"/><ellipse cx="641.8" cy="376.8" rx="2.85" ry="3.3"/><ellipse cx="653.8" cy="399.6" rx="2.85" ry="3.3"/><ellipse cx="663.1" cy="425" rx="2.85" ry="3.3"/><ellipse cx="674.9" cy="420" rx="2.85" ry="3.3"/><ellipse cx="687" cy="410.3" rx="2.85" ry="3.3"/><ellipse cx="698.7" cy="420.7" rx="2.85" ry="3.3"/><ellipse cx="707.7" cy="429.4" rx="2.85" ry="3.3"/><ellipse cx="78.4" cy="465.9" rx="2.85" ry="3.3"/><ellipse cx="90.4" cy="467.1" rx="2.85" ry="3.3"/><ellipse cx="102.2" cy="469.4" rx="2.85" ry="3.3"/><ellipse cx="111.2" cy="462.1" rx="2.85" ry="3.3"/><ellipse cx="123.2" cy="455.3" rx="2.85" ry="3.3"/><ellipse cx="135.2" cy="461.6" rx="2.85" ry="3.3"/><ellipse cx="144.5" cy="471.1" rx="2.85" ry="3.3"/><ellipse cx="156.3" cy="480.1" rx="2.85" ry="3.3"/><ellipse cx="168.3" cy="484.9" rx="2.85" ry="3.3"/><ellipse cx="177.3" cy="489.7" rx="2.85" ry="3.3"/><ellipse cx="189.3" cy="501.9" rx="2.85" ry="3.3"/><ellipse cx="201.4" cy="517" rx="2.85" ry="3.3"/><ellipse cx="210.4" cy="531.5" rx="2.85" ry="3.3"/><ellipse cx="222.1" cy="526.7" rx="2.85" ry="3.3"/><ellipse cx="234.2" cy="519" rx="2.85" ry="3.3"/><ellipse cx="246.2" cy="539" rx="2.85" ry="3.3"/><ellipse cx="255.2" cy="551.5" rx="2.85" ry="3.3"/><ellipse cx="267.2" cy="562.8" rx="2.85" ry="3.3"/><ellipse cx="279.2" cy="573.6" rx="2.85" ry="3.3"/><ellipse cx="288.3" cy="561.3" rx="2.85" ry="3.3"/><ellipse cx="300.3" cy="559.8" rx="2.85" ry="3.3"/><ellipse cx="312.3" cy="562.3" rx="2.85" ry="3.3"/><ellipse cx="323.8" cy="569.6" rx="2.85" ry="3.3"/><ellipse cx="333.1" cy="560" rx="2.85" ry="3.3"/><ellipse cx="345.1" cy="550.8" rx="2.85" ry="3.3"/><ellipse cx="357.1" cy="544" rx="2.85" ry="3.3"/><ellipse cx="366.2" cy="553.5" rx="2.85" ry="3.3"/><ellipse cx="377.9" cy="557.3" rx="2.85" ry="3.3"/><ellipse cx="390" cy="551.5" rx="2.85" ry="3.3"/><ellipse cx="402" cy="546.1" rx="2.85" ry="3.3"/><ellipse cx="410.8" cy="531.7" rx="2.85" ry="3.3"/><ellipse cx="423.1" cy="529.2" rx="2.85" ry="3.3"/><ellipse cx="435.1" cy="525.7" rx="2.85" ry="3.3"/><ellipse cx="444.1" cy="514.5" rx="2.85" ry="3.3"/><ellipse cx="456.1" cy="497.7" rx="2.85" ry="3.3"/><ellipse cx="467.9" cy="484.4" rx="2.85" ry="3.3"/><ellipse cx="480.2" cy="490.4" rx="2.85" ry="3.3"/><ellipse cx="489.2" cy="496.4" rx="2.85" ry="3.3"/><ellipse cx="500.7" cy="484.2" rx="2.85" ry="3.3"/><ellipse cx="513" cy="472.4" rx="2.85" ry="3.3"/><ellipse cx="522" cy="477.6" rx="2.85" ry="3.3"/><ellipse cx="534" cy="482.9" rx="2.85" ry="3.3"/><ellipse cx="545.8" cy="494.4" rx="2.85" ry="3.3"/><ellipse cx="558.1" cy="505.7" rx="2.85" ry="3.3"/><ellipse cx="566.8" cy="535.5" rx="2.85" ry="3.3"/><ellipse cx="579.1" cy="572.3" rx="2.85" ry="3.3"/><ellipse cx="590.9" cy="569.3" rx="2.85" ry="3.3"/><ellipse cx="602.9" cy="565.5" rx="2.85" ry="3.3"/><ellipse cx="611.9" cy="589.8" rx="2.85" ry="3.3"/><ellipse cx="624.2" cy="614.2" rx="2.85" ry="3.3"/><ellipse cx="635.7" cy="639.3" rx="2.85" ry="3.3"/><ellipse cx="645" cy="656.8" rx="2.85" ry="3.3"/><ellipse cx="656.7" cy="684.4" rx="2.85" ry="3.3"/><ellipse cx="668.8" cy="701.4" rx="2.85" ry="3.3"/><ellipse cx="680.8" cy="709.4" rx="2.85" ry="3.3"/><ellipse cx="690" cy="714.5" rx="2.85" ry="3.3"/><ellipse cx="698.7" cy="712.8" rx="2.85" ry="3.3"/><ellipse cx="708" cy="715.3" rx="2.85" ry="3.3"/><ellipse cx="81.4" cy="679.1" rx="2.85" ry="3.3"/><ellipse cx="93.2" cy="669.2" rx="2.85" ry="3.3"/><ellipse cx="105.4" cy="664.4" rx="2.85" ry="3.3"/><ellipse cx="114.5" cy="667.5" rx="2.85" ry="3.3"/><ellipse cx="126.2" cy="670.6" rx="2.85" ry="3.3"/><ellipse cx="138.2" cy="667.4" rx="2.85" ry="3.3"/><ellipse cx="147.5" cy="664.4" rx="2.85" ry="3.3"/><ellipse cx="159.3" cy="664.8" rx="2.85" ry="3.3"/><ellipse cx="171.6" cy="679.1" rx="2.85" ry="3.3"/><ellipse cx="180.3" cy="693.2" rx="2.85" ry="3.3"/><ellipse cx="192.3" cy="697.9" rx="2.85" ry="3.3"/><ellipse cx="204.4" cy="708.7" rx="2.85" ry="3.3"/><ellipse cx="213.1" cy="719.5" rx="2.85" ry="3.3"/><ellipse cx="225.4" cy="723.7" rx="2.85" ry="3.3"/><ellipse cx="237.2" cy="728.5" rx="2.85" ry="3.3"/><ellipse cx="249.4" cy="732.7" rx="2.85" ry="3.3"/><ellipse cx="258.2" cy="737.5" rx="2.85" ry="3.3"/><ellipse cx="270.2" cy="737.5" rx="2.85" ry="3.3"/><ellipse cx="282.3" cy="743.8" rx="2.85" ry="3.3"/><ellipse cx="291" cy="745.5" rx="2.85" ry="3.3"/><ellipse cx="303" cy="747.8" rx="2.85" ry="3.3"/><ellipse cx="315.1" cy="745.3" rx="2.85" ry="3.3"/><ellipse cx="327.1" cy="740.2" rx="2.85" ry="3.3"/><ellipse cx="336.1" cy="737.2" rx="2.85" ry="3.3"/><ellipse cx="347.9" cy="735.2" rx="2.85" ry="3.3"/><ellipse cx="360.1" cy="713.5" rx="2.85" ry="3.3"/><ellipse cx="369.2" cy="708.2" rx="2.85" ry="3.3"/><ellipse cx="381.2" cy="710.8" rx="2.85" ry="3.3"/><ellipse cx="393.1" cy="713.8" rx="2.85" ry="3.3"/><ellipse cx="405.1" cy="724.2" rx="2.85" ry="3.3"/><ellipse cx="414" cy="736.5" rx="2.85" ry="3.3"/><ellipse cx="425.8" cy="737.2" rx="2.85" ry="3.3"/><ellipse cx="437.9" cy="738.2" rx="2.85" ry="3.3"/><ellipse cx="447.1" cy="735.7" rx="2.85" ry="3.3"/><ellipse cx="458.9" cy="710.9" rx="2.85" ry="3.3"/><ellipse cx="470.9" cy="691.9" rx="2.85" ry="3.3"/><ellipse cx="482.8" cy="672.2" rx="2.85" ry="3.3"/><ellipse cx="491.9" cy="664.4" rx="2.85" ry="3.3"/><ellipse cx="504" cy="656.3" rx="2.85" ry="3.3"/><ellipse cx="515.7" cy="657" rx="2.85" ry="3.3"/><ellipse cx="525" cy="661.3" rx="2.85" ry="3.3"/><ellipse cx="537" cy="665" rx="2.85" ry="3.3"/><ellipse cx="549" cy="684.4" rx="2.85" ry="3.3"/><ellipse cx="560.8" cy="693.2" rx="2.85" ry="3.3"/><ellipse cx="570.1" cy="721" rx="2.85" ry="3.3"/><ellipse cx="581.9" cy="727.7" rx="2.85" ry="3.3"/><ellipse cx="593.6" cy="733.7" rx="2.85" ry="3.3"/><ellipse cx="605.9" cy="757.5" rx="2.85" ry="3.3"/><ellipse cx="614.9" cy="780.8" rx="2.85" ry="3.3"/><ellipse cx="626.9" cy="808.4" rx="2.85" ry="3.3"/><ellipse cx="639.2" cy="835.4" rx="2.85" ry="3.3"/><ellipse cx="648" cy="861.9" rx="2.85" ry="3.3"/><ellipse cx="660" cy="888.1" rx="2.85" ry="3.3"/><ellipse cx="672" cy="902.9" rx="2.85" ry="3.3"/><ellipse cx="684" cy="906.4" rx="2.85" ry="3.3"/><ellipse cx="693.1" cy="910.4" rx="2.85" ry="3.3"/><ellipse cx="705.1" cy="906.6" rx="2.85" ry="3.3"/></g>
<g class="pt"><ellipse cx="780.4" cy="431.6" rx="3.3" ry="3.6"/><ellipse cx="792.7" cy="427.3" rx="3.3" ry="3.6"/><ellipse cx="804.7" cy="423.7" rx="3.3" ry="3.6"/><ellipse cx="817.1" cy="421.5" rx="3.3" ry="3.6"/><ellipse cx="832.2" cy="413.2" rx="3.3" ry="3.6"/><ellipse cx="844.5" cy="394.2" rx="3.3" ry="3.6"/><ellipse cx="856.9" cy="375.4" rx="3.3" ry="3.6"/><ellipse cx="869.2" cy="346.4" rx="3.3" ry="3.6"/><ellipse cx="881.1" cy="312.8" rx="3.3" ry="3.6"/><ellipse cx="893.4" cy="282.1" rx="3.3" ry="3.6"/><ellipse cx="905.5" cy="234.4" rx="3.3" ry="3.6"/><ellipse cx="917.8" cy="190.7" rx="3.3" ry="3.6"/><ellipse cx="933.1" cy="179.1" rx="3.3" ry="3.6"/><ellipse cx="945.1" cy="190.7" rx="3.3" ry="3.6"/><ellipse cx="957.3" cy="202.2" rx="3.3" ry="3.6"/><ellipse cx="969.9" cy="216" rx="3.3" ry="3.6"/><ellipse cx="981.9" cy="229.7" rx="3.3" ry="3.6"/><ellipse cx="994.4" cy="272.4" rx="3.3" ry="3.6"/><ellipse cx="1006.4" cy="312.4" rx="3.3" ry="3.6"/><ellipse cx="1021.2" cy="349.8" rx="3.3" ry="3.6"/><ellipse cx="1033.7" cy="387.5" rx="3.3" ry="3.6"/><ellipse cx="1046" cy="408.8" rx="3.3" ry="3.6"/><ellipse cx="1058" cy="433.1" rx="3.3" ry="3.6"/><ellipse cx="1070.3" cy="433.3" rx="3.3" ry="3.6"/><ellipse cx="1082.6" cy="433.6" rx="3.3" ry="3.6"/><ellipse cx="1094.8" cy="434.8" rx="3.3" ry="3.6"/><ellipse cx="780.4" cy="717.8" rx="3.3" ry="3.6"/><ellipse cx="792.7" cy="717.4" rx="3.3" ry="3.6"/><ellipse cx="804.8" cy="719.5" rx="3.3" ry="3.6"/><ellipse cx="817.1" cy="718.5" rx="3.3" ry="3.6"/><ellipse cx="832.4" cy="717.5" rx="3.3" ry="3.6"/><ellipse cx="844.7" cy="709.5" rx="3.3" ry="3.6"/><ellipse cx="856.9" cy="701.8" rx="3.3" ry="3.6"/><ellipse cx="868.9" cy="684.8" rx="3.3" ry="3.6"/><ellipse cx="881.2" cy="648" rx="3.3" ry="3.6"/><ellipse cx="893.5" cy="591.3" rx="3.3" ry="3.6"/><ellipse cx="905.8" cy="545.2" rx="3.3" ry="3.6"/><ellipse cx="917.8" cy="486.5" rx="3.3" ry="3.6"/><ellipse cx="933.1" cy="459.2" rx="3.3" ry="3.6"/><ellipse cx="945.1" cy="443" rx="3.3" ry="3.6"/><ellipse cx="957.6" cy="489.9" rx="3.3" ry="3.6"/><ellipse cx="969.9" cy="472.7" rx="3.3" ry="3.6"/><ellipse cx="981.9" cy="473.5" rx="3.3" ry="3.6"/><ellipse cx="994.4" cy="514.8" rx="3.3" ry="3.6"/><ellipse cx="1006.7" cy="555.5" rx="3.3" ry="3.6"/><ellipse cx="1021.5" cy="598.1" rx="3.3" ry="3.6"/><ellipse cx="1034" cy="618.1" rx="3.3" ry="3.6"/><ellipse cx="1046" cy="659.9" rx="3.3" ry="3.6"/><ellipse cx="1058" cy="701.8" rx="3.3" ry="3.6"/><ellipse cx="1070.3" cy="709.5" rx="3.3" ry="3.6"/><ellipse cx="1082.6" cy="713.5" rx="3.3" ry="3.6"/><ellipse cx="1094.8" cy="717.3" rx="3.3" ry="3.6"/><ellipse cx="780.5" cy="904.6" rx="3.3" ry="3.6"/><ellipse cx="792.8" cy="905.1" rx="3.3" ry="3.6"/><ellipse cx="804.8" cy="901.3" rx="3.3" ry="3.6"/><ellipse cx="817.1" cy="896.3" rx="3.3" ry="3.6"/><ellipse cx="832.4" cy="891.6" rx="3.3" ry="3.6"/><ellipse cx="844.7" cy="885" rx="3.3" ry="3.6"/><ellipse cx="856.9" cy="878.3" rx="3.3" ry="3.6"/><ellipse cx="868.9" cy="850" rx="3.3" ry="3.6"/><ellipse cx="881.2" cy="822.8" rx="3.3" ry="3.6"/><ellipse cx="893.5" cy="796.5" rx="3.3" ry="3.6"/><ellipse cx="905.8" cy="770.2" rx="3.3" ry="3.6"/><ellipse cx="917.8" cy="761.2" rx="3.3" ry="3.6"/><ellipse cx="933.1" cy="752.4" rx="3.3" ry="3.6"/><ellipse cx="945.1" cy="773.3" rx="3.3" ry="3.6"/><ellipse cx="957.6" cy="772.8" rx="3.3" ry="3.6"/><ellipse cx="969.9" cy="771.8" rx="3.3" ry="3.6"/><ellipse cx="981.9" cy="785.7" rx="3.3" ry="3.6"/><ellipse cx="994.4" cy="817.4" rx="3.3" ry="3.6"/><ellipse cx="1006.4" cy="849.5" rx="3.3" ry="3.6"/><ellipse cx="1021.5" cy="878.3" rx="3.3" ry="3.6"/><ellipse cx="1034" cy="889.6" rx="3.3" ry="3.6"/><ellipse cx="1046" cy="900.6" rx="3.3" ry="3.6"/><ellipse cx="1058" cy="902.8" rx="3.3" ry="3.6"/><ellipse cx="1070.3" cy="904.6" rx="3.3" ry="3.6"/><ellipse cx="1082.6" cy="903.6" rx="3.3" ry="3.6"/><ellipse cx="1094.8" cy="903.8" rx="3.3" ry="3.6"/></g>
<g class="pt"><ellipse cx="1186.1" cy="430.5" rx="3.1" ry="3.4"/><ellipse cx="1201.2" cy="430.5" rx="3.1" ry="3.4"/><ellipse cx="1216.2" cy="430.5" rx="3.1" ry="3.4"/><ellipse cx="1228.1" cy="430.1" rx="3.1" ry="3.4"/><ellipse cx="1243.2" cy="424.8" rx="3.1" ry="3.4"/><ellipse cx="1258.7" cy="417.4" rx="3.1" ry="3.4"/><ellipse cx="1273.5" cy="408.8" rx="3.1" ry="3.4"/><ellipse cx="1288.3" cy="405.2" rx="3.1" ry="3.4"/><ellipse cx="1300.5" cy="405.2" rx="3.1" ry="3.4"/><ellipse cx="1315.8" cy="396.9" rx="3.1" ry="3.4"/><ellipse cx="1331" cy="388" rx="3.1" ry="3.4"/><ellipse cx="1345.8" cy="383.1" rx="3.1" ry="3.4"/><ellipse cx="1361" cy="391.6" rx="3.1" ry="3.4"/><ellipse cx="1372.8" cy="411.5" rx="3.1" ry="3.4"/><ellipse cx="1387.8" cy="421.8" rx="3.1" ry="3.4"/><ellipse cx="1403.2" cy="427.8" rx="3.1" ry="3.4"/><ellipse cx="1418" cy="428.3" rx="3.1" ry="3.4"/><ellipse cx="1433.1" cy="429.3" rx="3.1" ry="3.4"/><ellipse cx="1444.9" cy="430.7" rx="3.1" ry="3.4"/><ellipse cx="1460.1" cy="426.6" rx="3.1" ry="3.4"/><ellipse cx="1475.2" cy="423.6" rx="3.1" ry="3.4"/><ellipse cx="1490.2" cy="418.7" rx="3.1" ry="3.4"/><ellipse cx="1505.4" cy="414.1" rx="3.1" ry="3.4"/><ellipse cx="1517.5" cy="410.2" rx="3.1" ry="3.4"/><ellipse cx="1532.5" cy="403.4" rx="3.1" ry="3.4"/><ellipse cx="1547.5" cy="399.1" rx="3.1" ry="3.4"/><ellipse cx="1562.9" cy="399.3" rx="3.1" ry="3.4"/><ellipse cx="1577.7" cy="401.1" rx="3.1" ry="3.4"/><ellipse cx="1589.6" cy="406.1" rx="3.1" ry="3.4"/><ellipse cx="1604.7" cy="411.2" rx="3.1" ry="3.4"/><ellipse cx="1620" cy="416.5" rx="3.1" ry="3.4"/><ellipse cx="1635.2" cy="421.5" rx="3.1" ry="3.4"/><ellipse cx="1650" cy="425" rx="3.1" ry="3.4"/><ellipse cx="1664.8" cy="427.8" rx="3.1" ry="3.4"/><ellipse cx="1677.3" cy="430.1" rx="3.1" ry="3.4"/><ellipse cx="1183" cy="715.8" rx="3.1" ry="3.4"/><ellipse cx="1195.2" cy="716.1" rx="3.1" ry="3.4"/><ellipse cx="1210" cy="713.8" rx="3.1" ry="3.4"/><ellipse cx="1225.2" cy="709.6" rx="3.1" ry="3.4"/><ellipse cx="1240.3" cy="698.9" rx="3.1" ry="3.4"/><ellipse cx="1255.3" cy="687.9" rx="3.1" ry="3.4"/><ellipse cx="1267.5" cy="684.7" rx="3.1" ry="3.4"/><ellipse cx="1282.6" cy="695.4" rx="3.1" ry="3.4"/><ellipse cx="1297.8" cy="698.9" rx="3.1" ry="3.4"/><ellipse cx="1312.6" cy="700.7" rx="3.1" ry="3.4"/><ellipse cx="1327.8" cy="699.3" rx="3.1" ry="3.4"/><ellipse cx="1339.9" cy="681.6" rx="3.1" ry="3.4"/><ellipse cx="1354.8" cy="664.3" rx="3.1" ry="3.4"/><ellipse cx="1369.9" cy="653.1" rx="3.1" ry="3.4"/><ellipse cx="1385.1" cy="662.8" rx="3.1" ry="3.4"/><ellipse cx="1400.1" cy="680.6" rx="3.1" ry="3.4"/><ellipse cx="1412.1" cy="698.3" rx="3.1" ry="3.4"/><ellipse cx="1427.1" cy="707.2" rx="3.1" ry="3.4"/><ellipse cx="1442.2" cy="712.6" rx="3.1" ry="3.4"/><ellipse cx="1457.1" cy="715.9" rx="3.1" ry="3.4"/><ellipse cx="1472.2" cy="715.9" rx="3.1" ry="3.4"/><ellipse cx="1484" cy="716.1" rx="3.1" ry="3.4"/><ellipse cx="1499.3" cy="712.7" rx="3.1" ry="3.4"/><ellipse cx="1514.4" cy="704.4" rx="3.1" ry="3.4"/><ellipse cx="1529.5" cy="701.7" rx="3.1" ry="3.4"/><ellipse cx="1544.5" cy="698.6" rx="3.1" ry="3.4"/><ellipse cx="1556.7" cy="700.1" rx="3.1" ry="3.4"/><ellipse cx="1571.8" cy="703.7" rx="3.1" ry="3.4"/><ellipse cx="1586.8" cy="708.4" rx="3.1" ry="3.4"/><ellipse cx="1601.8" cy="710.6" rx="3.1" ry="3.4"/><ellipse cx="1616.8" cy="713.8" rx="3.1" ry="3.4"/><ellipse cx="1629" cy="714.9" rx="3.1" ry="3.4"/><ellipse cx="1644.1" cy="715.5" rx="3.1" ry="3.4"/><ellipse cx="1658.9" cy="715.3" rx="3.1" ry="3.4"/><ellipse cx="1674.1" cy="714.9" rx="3.1" ry="3.4"/><ellipse cx="1183" cy="907.5" rx="3.1" ry="3.4"/><ellipse cx="1198.2" cy="906.3" rx="3.1" ry="3.4"/><ellipse cx="1213.4" cy="905.7" rx="3.1" ry="3.4"/><ellipse cx="1225.2" cy="904.3" rx="3.1" ry="3.4"/><ellipse cx="1240.3" cy="902.8" rx="3.1" ry="3.4"/><ellipse cx="1255.5" cy="900.4" rx="3.1" ry="3.4"/><ellipse cx="1270.5" cy="898" rx="3.1" ry="3.4"/><ellipse cx="1285.6" cy="893.9" rx="3.1" ry="3.4"/><ellipse cx="1297.4" cy="891.5" rx="3.1" ry="3.4"/><ellipse cx="1312.6" cy="892.1" rx="3.1" ry="3.4"/><ellipse cx="1328" cy="892.7" rx="3.1" ry="3.4"/><ellipse cx="1342.5" cy="885.8" rx="3.1" ry="3.4"/><ellipse cx="1357.8" cy="880.4" rx="3.1" ry="3.4"/><ellipse cx="1369.6" cy="882.2" rx="3.1" ry="3.4"/><ellipse cx="1384.8" cy="888.5" rx="3.1" ry="3.4"/><ellipse cx="1400.1" cy="892.1" rx="3.1" ry="3.4"/><ellipse cx="1414.9" cy="895" rx="3.1" ry="3.4"/><ellipse cx="1430.3" cy="901.6" rx="3.1" ry="3.4"/><ellipse cx="1442" cy="903.4" rx="3.1" ry="3.4"/><ellipse cx="1457.1" cy="906" rx="3.1" ry="3.4"/><ellipse cx="1472.2" cy="903.6" rx="3.1" ry="3.4"/><ellipse cx="1487.3" cy="902.3" rx="3.1" ry="3.4"/><ellipse cx="1502.3" cy="900.4" rx="3.1" ry="3.4"/><ellipse cx="1514.4" cy="885.3" rx="3.1" ry="3.4"/><ellipse cx="1529.4" cy="878" rx="3.1" ry="3.4"/><ellipse cx="1544.5" cy="874.9" rx="3.1" ry="3.4"/><ellipse cx="1559.6" cy="867.8" rx="3.1" ry="3.4"/><ellipse cx="1574.7" cy="874.9" rx="3.1" ry="3.4"/><ellipse cx="1586.8" cy="877.5" rx="3.1" ry="3.4"/><ellipse cx="1601.8" cy="887" rx="3.1" ry="3.4"/><ellipse cx="1616.8" cy="896.5" rx="3.1" ry="3.4"/><ellipse cx="1631.9" cy="901.6" rx="3.1" ry="3.4"/><ellipse cx="1646.8" cy="907.1" rx="3.1" ry="3.4"/><ellipse cx="1661.9" cy="906.9" rx="3.1" ry="3.4"/><ellipse cx="1674.1" cy="906.9" rx="3.1" ry="3.4"/></g>
<g><text transform="translate(99.85 48.05) scale(0.9988 1.0108)">Fe2<tspan font-style="italic">p</tspan></text>
<text transform="translate(183.84 56.90) scale(0.8600 1.0154)"><tspan font-size="29.5">1</tspan></text>
<text transform="translate(198.00 62.17) scale(1.5000 1.3063)"><tspan font-size="29.5">/</tspan></text>
<text transform="translate(209.53 56.90) scale(1.0979 1.0025)"><tspan font-size="29.5">2</tspan></text>
<text transform="translate(461.95 65.00) scale(0.9963 1.0162)">Fe2<tspan font-style="italic">p</tspan></text>
<text transform="translate(545.06 73.80) scale(0.9583 1.0076)"><tspan font-size="29.5">3</tspan></text>
<text transform="translate(560.30 78.87) scale(1.4375 1.3013)"><tspan font-size="29.5">/</tspan></text>
<text transform="translate(571.77 73.80) scale(1.0638 1.0076)"><tspan font-size="29.5">2</tspan></text>
<text y="148.75" font-size="42.00"><tspan x="920.88">O</tspan><tspan x="950.77">1</tspan><tspan x="971.30" font-style="italic">s</tspan></text>
<text y="334.70" font-size="41.92"><tspan x="1282.75">C</tspan><tspan x="1310.72">1</tspan><tspan x="1329.22">2</tspan><tspan x="1348.54" font-style="italic">p</tspan></text>
<text y="345.97" font-size="42.26"><tspan x="1541.29">B</tspan><tspan x="1567.71">1</tspan><tspan x="1588.15" font-style="italic">s</tspan></text>
<text transform="translate(732.17 437.79) scale(0.9135 1.0118) skewX(-9)"><tspan font-style="italic">5</tspan></text>
<text transform="translate(721.71 725.58) scale(0.8833 1.0308) skewX(-14)"><tspan font-style="italic">6</tspan></text>
<text transform="translate(733.14 918.80) scale(0.9848 1.0580)"><tspan font-style="italic">7</tspan></text>
<text transform="translate(1134.19 437.79) scale(0.9131 1.0118) skewX(-9)"><tspan font-style="italic">5</tspan></text>
<text transform="translate(1124.71 725.58) scale(0.8833 1.0308) skewX(-14)"><tspan font-style="italic">6</tspan></text>
<text transform="translate(1136.27 918.80) scale(0.9792 1.0580)"><tspan font-style="italic">7</tspan></text>
<text transform="translate(40.24 1026.10) scale(0.9675 1.0162)">725</text>
<text transform="translate(193.10 1026.10) scale(0.9804 1.0162)">720</text>
<text y="1026.10" font-size="42.68"><tspan x="346.74">7</tspan><tspan x="365.37">1</tspan><tspan x="383.25">5</tspan></text>
<text y="1026.10" font-size="42.68"><tspan x="498.69">7</tspan><tspan x="517.34">1</tspan><tspan x="536.58">0</tspan></text>
<text transform="translate(648.99 1026.10) scale(0.9846 1.0162)">705</text>
<text transform="translate(801.45 1026.10) scale(0.9804 1.0162)">535</text>
<text transform="translate(954.26 1026.10) scale(0.9763 1.0162)">530</text>
<text transform="translate(1140.31 1026.10) scale(0.9681 1.0162)">205</text>
<text transform="translate(1290.79 1026.10) scale(0.9791 1.0162)">200</text>
<text y="1026.10" font-size="42.68"><tspan x="1443.29">1</tspan><tspan x="1462.88">9</tspan><tspan x="1482.45">5</tspan></text>
<text y="1026.10" font-size="42.68"><tspan x="1594.39">1</tspan><tspan x="1613.83">9</tspan><tspan x="1635.60">0</tspan></text>
<text transform="translate(806.97 1075.90) scale(1.1412 1.0073)"><tspan font-style="italic">E</tspan></text>
<text transform="translate(834.08 1085.90) scale(0.9543 0.9897)"><tspan font-size="29.5">B</tspan></text>
<text transform="translate(854.67 1076.00) scale(1.0173 1.0109)">, эВ</text>
<text transform="translate(37.13 583.14) rotate(-90) scale(1.0319 0.9718)"><tspan font-style="italic">I</tspan>, отн. ед.</text>
</g>
</svg>
</body>
</html>
